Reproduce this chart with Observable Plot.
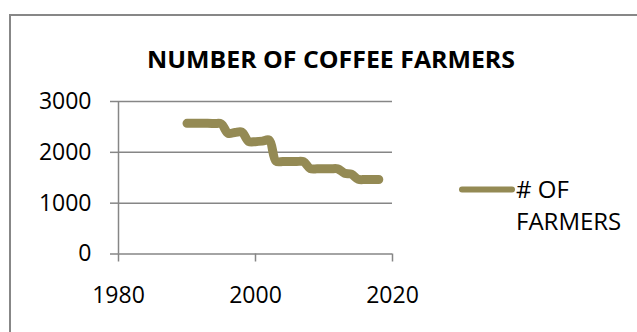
<!DOCTYPE html>
<html>
<head>
<meta charset="utf-8">
<script src="https://cdn.jsdelivr.net/npm/d3@7"></script>
<script src="https://cdn.jsdelivr.net/npm/@observablehq/plot@0.6"></script>
<style>
  html, body { margin: 0; padding: 0; background: #fff; }
  #wrap { position: relative; width: 637px; height: 332px; overflow: hidden; font-family: "Open Sans", sans-serif; }
  #frame { position: absolute; left: 9px; top: 14px; width: 640px; height: 400px; border: 2px solid #878787; box-sizing: border-box; }
  #chart { position: absolute; left: 0; top: 0; }
  #title { position: absolute; left: 0; top: 0; }
  #legend { position: absolute; left: 0; top: 0; }
</style>
</head>
<body>
<div id="wrap">
  <div id="frame"></div>
  <div id="chart"></div>
  <svg id="title" width="637" height="80"></svg>
  <svg id="legend" width="637" height="332"></svg>
</div>
<script>
const titleText = "NUMBER OF COFFEE FARMERS";
const seriesName = ["# OF", "FARMERS"];
const years = [1990, 1991, 1992, 1993, 1994, 1995, 1996, 1997, 1998, 1999, 2000, 2001, 2002, 2003, 2004, 2005, 2006, 2007, 2008, 2009, 2010, 2011, 2012, 2013, 2014, 2015, 2016, 2017, 2018];
const farmers = [2570, 2570, 2570, 2570, 2565, 2560, 2375, 2390, 2400, 2215, 2210, 2220, 2240, 1825, 1820, 1820, 1820, 1815, 1680, 1675, 1675, 1675, 1675, 1590, 1570, 1470, 1465, 1465, 1465];
const xTicks = [1980, 2000, 2020];
const yTicks = [0, 1000, 2000, 3000];

const data = years.map((y, i) => ({year: y, value: farmers[i]}));
const lineColor = "#948A54";
const gridColor = "#868686";

const plot = Plot.plot({
  width: 637,
  height: 332,
  marginLeft: 118,
  marginRight: 245,
  marginTop: 101,
  marginBottom: 78.5,
  style: {fontFamily: "Open Sans, sans-serif", fontSize: "23px", color: "#000", background: "transparent"},
  x: {domain: [1980, 2020]},
  y: {domain: [0, 3000]},
  marks: [
    Plot.gridY(yTicks, {stroke: gridColor, strokeOpacity: 1, strokeWidth: 1.5}),
    Plot.ruleX([1980], {y1: 0, y2: 3000, stroke: gridColor, strokeWidth: 1.5}),
    Plot.axisY(yTicks, {tickSize: 8, tickPadding: 19, fontSize: 23, stroke: gridColor, strokeWidth: 1.5, strokeOpacity: 1, fill: "#000", label: null, tickFormat: d => String(d)}),
    Plot.axisX(xTicks, {tickSize: 8, tickPadding: 25, fontSize: 23, stroke: gridColor, strokeWidth: 1.5, strokeOpacity: 1, fill: "#000", label: null, tickFormat: d => String(d)}),
    Plot.line(data, {x: "year", y: "value", curve: "catmull-rom", stroke: lineColor, strokeWidth: 9, strokeLinecap: "round", strokeLinejoin: "round"})
  ]
});
document.getElementById("chart").appendChild(plot);

// Title
const ns = "http://www.w3.org/2000/svg";
const t = document.createElementNS(ns, "text");
t.setAttribute("x", 331);
t.setAttribute("y", 68.3);
t.setAttribute("text-anchor", "middle");
t.setAttribute("font-family", "Open Sans, sans-serif");
t.setAttribute("font-weight", "bold");
t.setAttribute("font-size", "23.5");
t.setAttribute("textLength", "368");
t.setAttribute("lengthAdjust", "spacingAndGlyphs");
t.textContent = titleText;
document.getElementById("title").appendChild(t);

// Legend
const lg = document.getElementById("legend");
const ln = document.createElementNS(ns, "line");
ln.setAttribute("x1", 462); ln.setAttribute("x2", 512);
ln.setAttribute("y1", 189.5); ln.setAttribute("y2", 189.5);
ln.setAttribute("stroke", lineColor);
ln.setAttribute("stroke-width", 6);
ln.setAttribute("stroke-linecap", "round");
lg.appendChild(ln);
seriesName.forEach((s, i) => {
  const tx = document.createElementNS(ns, "text");
  tx.setAttribute("x", 516);
  tx.setAttribute("y", 198 + i * 32);
  tx.setAttribute("font-family", "Open Sans, sans-serif");
  tx.setAttribute("font-size", "24");
  tx.setAttribute("fill", "#000");
  tx.textContent = s;
  lg.appendChild(tx);
});
</script>
</body>
</html>
